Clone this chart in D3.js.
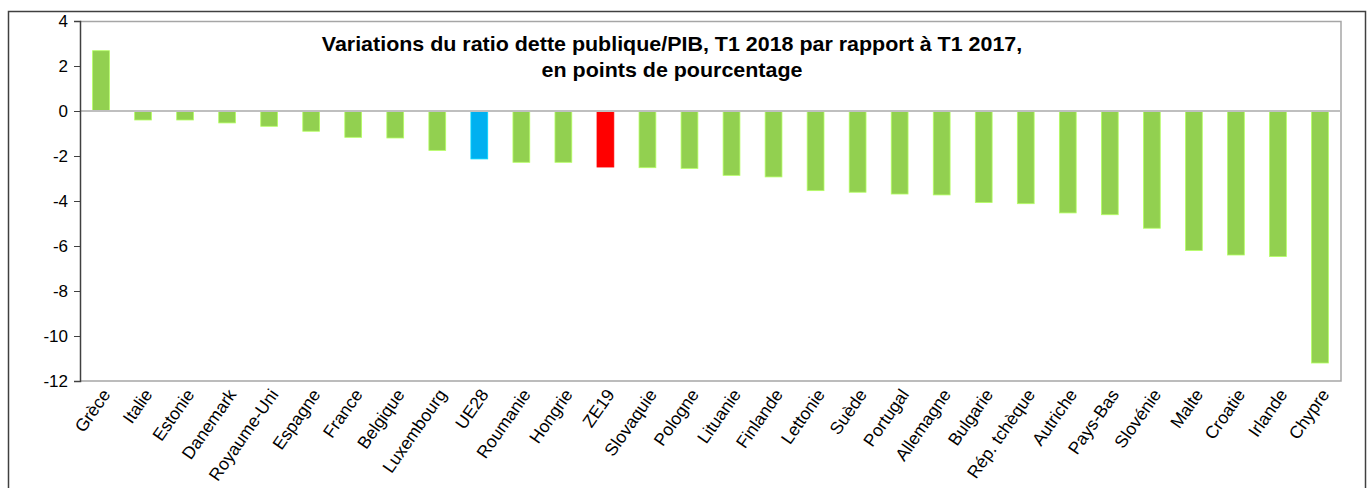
<!DOCTYPE html>
<html>
<head>
<meta charset="utf-8">
<script src="https://cdnjs.cloudflare.com/ajax/libs/d3/7.8.5/d3.min.js"></script>
<style>
  body { margin: 0; background: #fff; }
  svg { display: block; font-family: "Liberation Sans", Arial, sans-serif; }
</style>
</head>
<body>
<div id="chart"></div>
<script>
const countries = ['Grèce', 'Italie', 'Estonie', 'Danemark', 'Royaume-Uni', 'Espagne', 'France', 'Belgique',
  'Luxembourg', 'UE28', 'Roumanie', 'Hongrie', 'ZE19', 'Slovaquie', 'Pologne', 'Lituanie', 'Finlande',
  'Lettonie', 'Suède', 'Portugal', 'Allemagne', 'Bulgarie', 'Rép. tchèque', 'Autriche', 'Pays-Bas',
  'Slovénie', 'Malte', 'Croatie', 'Irlande', 'Chypre'];
const changes = [2.68, -0.40, -0.40, -0.53, -0.68, -0.90, -1.17, -1.20, -1.75, -2.13, -2.28, -2.28, -2.49,
  -2.52, -2.55, -2.86, -2.93, -3.54, -3.61, -3.69, -3.73, -4.07, -4.12, -4.53, -4.61, -5.21, -6.20,
  -6.40, -6.47, -11.2];
const yTicks = [4, 2, 0, -2, -4, -6, -8, -10, -12];
const titleLines = ['Variations du ratio dette publique/PIB, T1 2018 par rapport à T1 2017,',
  'en points de pourcentage'];

const barColor = name => name === 'UE28' ? '#00b0f0' : name === 'ZE19' ? '#ff0000' : '#92d050';

const W = 1370, H = 488;
const margin = { top: 21, right: 29, bottom: 107, left: 80 };
const innerW = W - margin.left - margin.right;
const innerH = H - margin.top - margin.bottom;

const svg = d3.select('#chart').append('svg')
  .attr('width', W).attr('height', H);

// outer chart frame
svg.append('rect')
  .attr('x', 8.5).attr('y', 11.5)
  .attr('width', 1357).attr('height', 490)
  .attr('fill', 'none').attr('stroke', '#404040').attr('stroke-width', 1.5);

const g = svg.append('g').attr('transform', `translate(${margin.left},${margin.top})`);

const data = countries.map((c, i) => ({ name: c, value: changes[i] }));

const x = d3.scaleBand().domain(countries).range([0, innerW]).paddingInner(0.6).paddingOuter(0.3);
const y = d3.scaleLinear().domain([-12, 4]).range([innerH, 0]);

// plot area border (top, right, bottom)
g.append('path')
  .attr('d', `M0,0.5H${innerW}V${innerH}H0`)
  .attr('fill', 'none').attr('stroke', '#a6a6a6').attr('stroke-width', 1.5);

// bars
g.selectAll('.bar')
  .data(data)
  .join('rect')
  .attr('class', 'bar')
  .attr('x', d => x(d.name))
  .attr('width', x.bandwidth())
  .attr('y', d => y(Math.max(0, d.value)))
  .attr('height', d => Math.abs(y(d.value) - y(0)))
  .attr('fill', d => barColor(d.name))
  .attr('stroke', d => d3.color(barColor(d.name)).brighter(0.6))
  .attr('stroke-width', 0.8);

// zero line
g.append('line')
  .attr('x1', 0).attr('x2', innerW)
  .attr('y1', y(0)).attr('y2', y(0))
  .attr('stroke', '#bfbfbf').attr('stroke-width', 2);

// Y axis
const yAxis = g.append('g')
  .call(d3.axisLeft(y).tickValues(yTicks).tickSize(6).tickPadding(6).tickFormat(d3.format('d')));
yAxis.select('.domain').attr('stroke', '#404040').attr('stroke-width', 1.5);
yAxis.selectAll('.tick line').attr('stroke', '#404040');
yAxis.selectAll('.tick text')
  .attr('fill', '#000')
  .style('font-size', '17px')
  .text(d => d < 0 ? '-' + Math.abs(d) : d);

// X labels, rotated
g.selectAll('.xlab')
  .data(data)
  .join('text')
  .attr('class', 'xlab')
  .attr('transform', d => `translate(${x(d.name) + x.bandwidth() / 2 + 5},${innerH + 10}) rotate(-55)`)
  .attr('text-anchor', 'end')
  .attr('dy', '0.35em')
  .style('font-size', '17.5px')
  .attr('fill', '#000')
  .text(d => d.name);

// title (slightly widened like the original)
svg.append('g')
  .attr('transform', 'translate(672,0) scale(1.1,1)')
  .selectAll('text')
  .data(titleLines)
  .join('text')
  .attr('x', 0)
  .attr('y', (d, i) => 51 + i * 26)
  .attr('text-anchor', 'middle')
  .style('font-size', '19.5px')
  .style('font-weight', 'bold')
  .attr('fill', '#000')
  .text(d => d);
</script>
</body>
</html>
